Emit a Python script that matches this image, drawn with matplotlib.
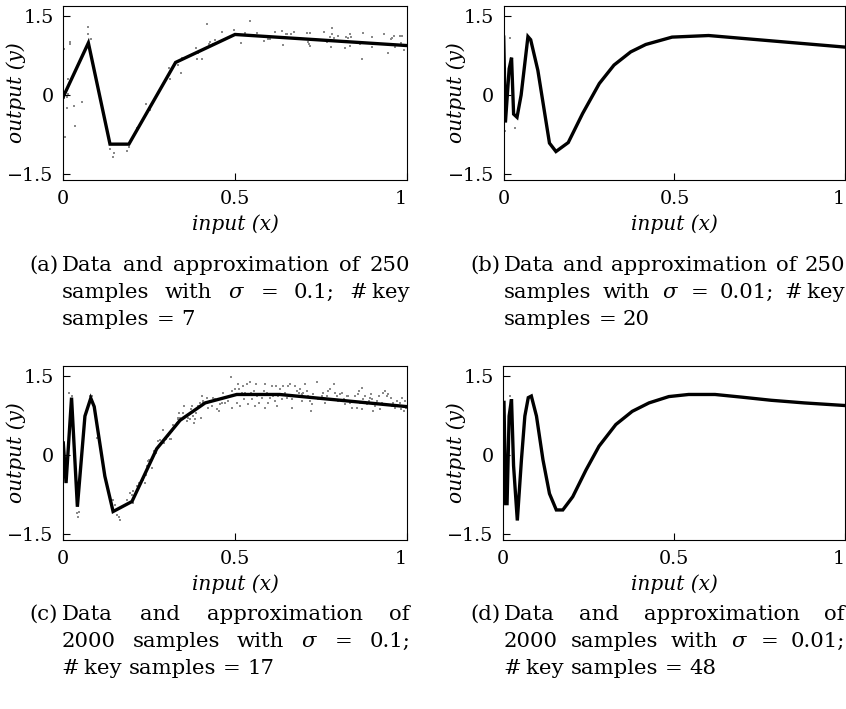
import matplotlib
matplotlib.use("Agg")
import matplotlib.pyplot as plt

plt.rcParams['font.family'] = ['DejaVu Serif']
plt.rcParams['mathtext.fontset'] = 'dejavuserif'

W, H = 846, 709

# --- (a) 250 campioni, sigma = 0.1, 7 key samples ---
a_key_x = [0.0, 0.073, 0.136, 0.191, 0.327, 0.500, 1.0]
a_key_y = [-0.03, 0.99, -0.93, -0.93, 0.62, 1.15, 0.94]
a_dati_x = [0.073, 0.072, 0.081, 0.020, 0.020, 0.002, 0.015, 0.015, 0.012, 0.002,
            0.012, 0.031, 0.054, 0.034, 0.005, 0.136, 0.148, 0.144, 0.185, 0.191,
            0.214, 0.241, 0.253, 0.309, 0.311, 0.335,
            0.418, 0.461, 0.497, 0.544, 0.529, 0.517, 0.565, 0.585, 0.597, 0.602,
            0.617, 0.636, 0.639, 0.649, 0.442, 0.427, 0.425, 0.435, 0.445, 0.387,
            0.393, 0.389, 0.405, 0.345, 0.335, 0.342,
            0.651, 0.663, 0.673, 0.709, 0.719, 0.714, 0.716, 0.719, 0.743, 0.753,
            0.760, 0.767, 0.777, 0.782, 0.782, 0.787, 0.779, 0.799, 0.819, 0.824,
            0.830, 0.835, 0.838, 0.835, 0.864, 0.872, 0.869, 0.900, 0.900, 0.934,
            0.945, 0.955, 0.958, 0.964, 0.966, 0.981, 0.986, 0.984, 0.993]
a_dati_y = [1.30, 1.15, 1.06, 1.01, 0.96, 0.87, 0.30, 0.03, -0.04, -0.06,
            -0.25, -0.21, -0.14, -0.59, -0.79, -1.02, -1.10, -1.18, -1.06, -0.99,
            -0.63, -0.16, -0.28, 0.51, 0.30, 0.57,
            1.35, 1.19, 1.23, 1.40, 1.17, 0.98, 1.17, 1.02, 1.06, 1.06,
            1.19, 1.21, 0.95, 1.15, 1.04, 1.01, 0.96, 0.97, 0.99, 0.89,
            0.79, 0.68, 0.68, 0.70, 0.58, 0.41,
            1.15, 1.15, 1.19, 1.18, 1.17, 1.01, 0.97, 0.94, 1.04, 1.04,
            1.19, 1.01, 1.11, 1.27, 1.15, 1.09, 0.92, 1.13, 0.90, 1.11,
            1.09, 1.15, 1.11, 0.94, 0.96, 1.17, 0.68, 1.11, 0.92, 1.16,
            0.79, 1.06, 1.09, 1.12, 0.92, 1.13, 1.13, 0.98, 0.85]

# --- (b) 250 campioni, sigma = 0.01, 20 key samples ---
b_key_x = [0.0, 0.005, 0.016, 0.023, 0.029, 0.039, 0.051, 0.071, 0.079, 0.100,
           0.134, 0.153, 0.189, 0.231, 0.280, 0.323, 0.372, 0.416, 0.493, 0.600, 1.0]
b_key_y = [1.10, -0.52, 0.50, 0.71, -0.36, -0.42, 0.0, 1.11, 1.05, 0.47,
           -0.91, -1.07, -0.90, -0.35, 0.22, 0.57, 0.82, 0.96, 1.10, 1.13, 0.91]
b_dati_x = [0.019, 0.003, 0.033, 0.001]
b_dati_y = [1.08, -0.69, -0.63, 1.00]

# --- (c) 2000 campioni, sigma = 0.1, 17 key samples ---
c_key_x = [0.0, 0.008, 0.024, 0.041, 0.063, 0.080, 0.090, 0.121, 0.145, 0.200,
           0.272, 0.340, 0.413, 0.505, 0.630, 1.0]
c_key_y = [0.23, -0.53, 1.09, -0.98, 0.74, 1.08, 0.92, -0.40, -1.07, -0.88,
           0.12, 0.66, 0.99, 1.15, 1.15, 0.92]
c_dati_x = [0.018, 0.024, 0.039, 0.044, 0.047, 0.078, 0.085, 0.097, 0.049, 0.146,
            0.151, 0.157, 0.163, 0.165, 0.185, 0.194, 0.199, 0.202, 0.204, 0.214,
            0.219, 0.223, 0.231, 0.238, 0.241, 0.245, 0.248, 0.251, 0.257, 0.260,
            0.264, 0.270, 0.277, 0.282, 0.287, 0.293, 0.299, 0.291, 0.306, 0.313,
            0.320, 0.325, 0.330, 0.335, 0.338,
            0.311, 0.316, 0.321, 0.328, 0.335, 0.340, 0.350, 0.352, 0.359, 0.364,
            0.369, 0.371, 0.374, 0.379, 0.381, 0.384, 0.387, 0.389, 0.393, 0.398,
            0.400, 0.403, 0.406, 0.408, 0.418, 0.422, 0.427, 0.432, 0.437, 0.442,
            0.447, 0.454, 0.456, 0.461, 0.464, 0.471, 0.481, 0.488, 0.490, 0.490,
            0.495, 0.500, 0.505, 0.510, 0.513, 0.515, 0.520, 0.522, 0.526, 0.529,
            0.536, 0.539, 0.544, 0.546, 0.549, 0.554, 0.558, 0.561, 0.565, 0.571,
            0.578, 0.583, 0.588, 0.588, 0.592, 0.597, 0.602, 0.607, 0.612, 0.617,
            0.620, 0.623, 0.626, 0.631, 0.636, 0.641, 0.646, 0.651, 0.655,
            0.660, 0.656, 0.665, 0.675, 0.680, 0.685, 0.690, 0.694, 0.699, 0.704,
            0.709, 0.714, 0.665, 0.694, 0.719, 0.723, 0.728, 0.738, 0.733, 0.743,
            0.722, 0.753, 0.757, 0.762, 0.767, 0.772, 0.777, 0.782, 0.787, 0.791,
            0.796, 0.801, 0.806, 0.811, 0.816, 0.821, 0.825, 0.830, 0.835, 0.840,
            0.845, 0.850, 0.855, 0.859, 0.861, 0.864, 0.869, 0.871, 0.874, 0.879,
            0.884, 0.889, 0.893, 0.896, 0.900, 0.903, 0.908, 0.913, 0.918, 0.922,
            0.927, 0.932, 0.937, 0.942, 0.947, 0.955, 0.956, 0.961, 0.966, 0.971,
            0.976, 0.981, 0.984, 0.986, 0.990, 0.993, 0.995, 0.997]
c_dati_y = [1.17, 1.12, -1.10, -1.17, -1.07, 1.13, 1.12, 0.33, -0.28, -0.85,
            -0.94, -1.13, -1.17, -1.23, -0.85, -0.72, -0.75, -0.69, -0.91, -0.58,
            -0.53, -0.56, -0.47, -0.53, -0.37, -0.21, -0.12, -0.09, -0.24, -0.02,
            0.07, 0.04, 0.26, 0.28, 0.24, 0.23, 0.30, 0.47, 0.36, 0.30,
            0.58, 0.55, 0.61, 0.71, 0.80,
            0.31, 0.45, 0.52, 0.58, 0.68, 0.71, 0.80, 0.94, 0.64, 0.71,
            0.68, 0.87, 0.93, 0.74, 0.61, 0.68, 0.80, 0.87, 0.93, 0.99,
            0.71, 1.13, 0.99, 1.03, 1.09, 0.90, 1.03, 0.93, 1.09, 1.06,
            0.87, 0.84, 0.96, 0.99, 1.18, 0.99, 1.03, 1.49, 1.22, 0.90,
            1.12, 1.25, 0.99, 1.34, 1.25, 0.93, 1.18, 1.32, 1.06, 1.18,
            1.34, 0.96, 1.38, 1.18, 1.06, 1.22, 0.93, 1.34, 1.12, 0.99,
            1.09, 1.22, 1.34, 0.90, 1.18, 0.99, 1.09, 1.31, 1.12, 1.03,
            1.32, 0.93, 1.12, 1.25, 1.06, 1.32, 1.18, 1.09, 1.31,
            1.34, 1.12, 1.06, 1.31, 1.22, 1.18, 1.25, 1.15, 1.18, 1.34,
            1.22, 1.12, 0.90, 1.03, 1.03, 0.96, 1.15, 1.38, 1.09, 1.06,
            0.84, 1.12, 1.18, 0.99, 1.12, 1.22, 1.26, 1.06, 1.34, 1.18,
            1.12, 1.03, 1.15, 1.18, 1.06, 0.96, 1.12, 1.12, 0.99, 0.90,
            1.03, 1.12, 0.90, 1.15, 1.22, 0.99, 1.28, 0.87, 1.06, 1.12,
            0.96, 1.03, 1.09, 1.15, 1.06, 0.84, 0.93, 1.03, 1.12, 0.87,
            0.99, 1.18, 1.22, 1.12, 1.15, 1.09, 0.93, 0.99, 0.90, 1.03,
            0.93, 0.99, 0.87, 1.09, 0.93, 0.84, 1.03, 0.90]

# --- (d) 2000 campioni, sigma = 0.01, 48 key samples ---
d_key_x = [0.002, 0.007, 0.011, 0.017, 0.024, 0.030, 0.041, 0.053, 0.063, 0.073,
           0.082, 0.097, 0.116, 0.135, 0.155, 0.174, 0.203, 0.242, 0.280, 0.329,
           0.377, 0.426, 0.484, 0.542, 0.619, 0.696, 0.783, 0.880, 1.0]
d_key_y = [1.00, -0.92, -0.92, 0.74, 1.06, -0.20, -1.24, -0.09, 0.74, 1.09,
           1.12, 0.74, -0.09, -0.73, -1.04, -1.04, -0.79, -0.28, 0.17, 0.58,
           0.83, 0.99, 1.11, 1.15, 1.15, 1.10, 1.04, 0.99, 0.94]
d_dati_x = [0.021, 0.023, 0.004]
d_dati_y = [1.12, 1.05, 0.50]

# posizioni degli assi in pixel: sinistra, alto, larghezza
pannelli = [
    (a_key_x, a_key_y, a_dati_x, a_dati_y, 63.3, 6, 343.4),
    (b_key_x, b_key_y, b_dati_x, b_dati_y, 503.7, 6, 341.5),
    (c_key_x, c_key_y, c_dati_x, c_dati_y, 63.3, 366, 343.4),
    (d_key_x, d_key_y, d_dati_x, d_dati_y, 503.3, 366, 342.0),
]

didascalie = [
    ("(a)", ["Data and approximation of 250", "samples with $\\sigma$ = 0.1; #\u2009key", "samples = 7"]),
    ("(b)", ["Data and approximation of 250", "samples with $\\sigma$ = 0.01; #\u2009key", "samples = 20"]),
    ("(c)", ["Data and approximation of", "2000 samples with $\\sigma$ = 0.1;", "#\u2009key samples = 17"]),
    ("(d)", ["Data and approximation of", "2000 samples with $\\sigma$ = 0.01;", "#\u2009key samples = 48"]),
]

FS = 13.8
fig = plt.figure(figsize=(W / 100, H / 100), dpi=100)

for (kx, ky, dx, dy, sx, top, larg) in pannelli:
    ax = fig.add_axes([sx / W, 1 - (top + 174) / H, larg / W, 174 / H])
    ax.scatter(dx, dy, s=1.3, marker='s', color='#8a8a8a', linewidths=0, zorder=1)
    ax.plot(kx, ky, color='black', linewidth=2.4, solid_joinstyle='miter', zorder=2)
    ax.set_xlim(0, 1)
    ax.set_ylim(-1.61, 1.69)
    ax.set_xticks([0, 0.5, 1])
    etichette = ax.set_xticklabels(['0', '0.5', '1'])
    etichette[-1].set_horizontalalignment('right')  # il "1" resta dentro il bordo
    ax.set_yticks([-1.5, 0, 1.5])
    ax.set_yticklabels(['\u22121.5', '0', '1.5'])
    ax.tick_params(direction='in', length=5, width=0.8, labelsize=FS, pad=7)
    for sp in ax.spines.values():
        sp.set_linewidth(0.8)
    ax.set_xlabel('input (x)', fontsize=FS + 0.7, fontstyle='italic', labelpad=5)
    ax.set_ylabel('output (y)', fontsize=FS + 0.7, fontstyle='italic')
    ax.yaxis.set_label_coords(-0.11, 0.5)

# --- didascalie giustificate ---
r = fig.canvas.get_renderer()
CAP = 15.3
spazio = 0.318 * CAP * 100 / 72


def scrivi_riga(testo, x0, x1, y, giustifica):
    parole = testo.split(' ')
    oggetti = [fig.text(0, 1 - y / H, p, fontsize=CAP, va='baseline', ha='left') for p in parole]
    larghezze = [t.get_window_extent(r).width for t in oggetti]
    if giustifica and len(parole) > 1:
        gap = (x1 - x0 - sum(larghezze)) / (len(parole) - 1)
    else:
        gap = spazio
    x = x0
    for t, w in zip(oggetti, larghezze):
        t.set_x(x / W)
        x += w + gap


for i, (lettera, righe) in enumerate(didascalie):
    col = i % 2
    riga = i // 2
    x_let = 58 if col == 0 else 500
    x0 = 62 if col == 0 else 504
    x1 = 410 if col == 0 else 845
    base = 271 if riga == 0 else 620
    fig.text(x_let / W, 1 - base / H, lettera, fontsize=CAP, va='baseline', ha='right')
    for k, testo in enumerate(righe):
        scrivi_riga(testo, x0, x1, base + 27 * k, k < 2)

fig.savefig('out.png', dpi=100)
